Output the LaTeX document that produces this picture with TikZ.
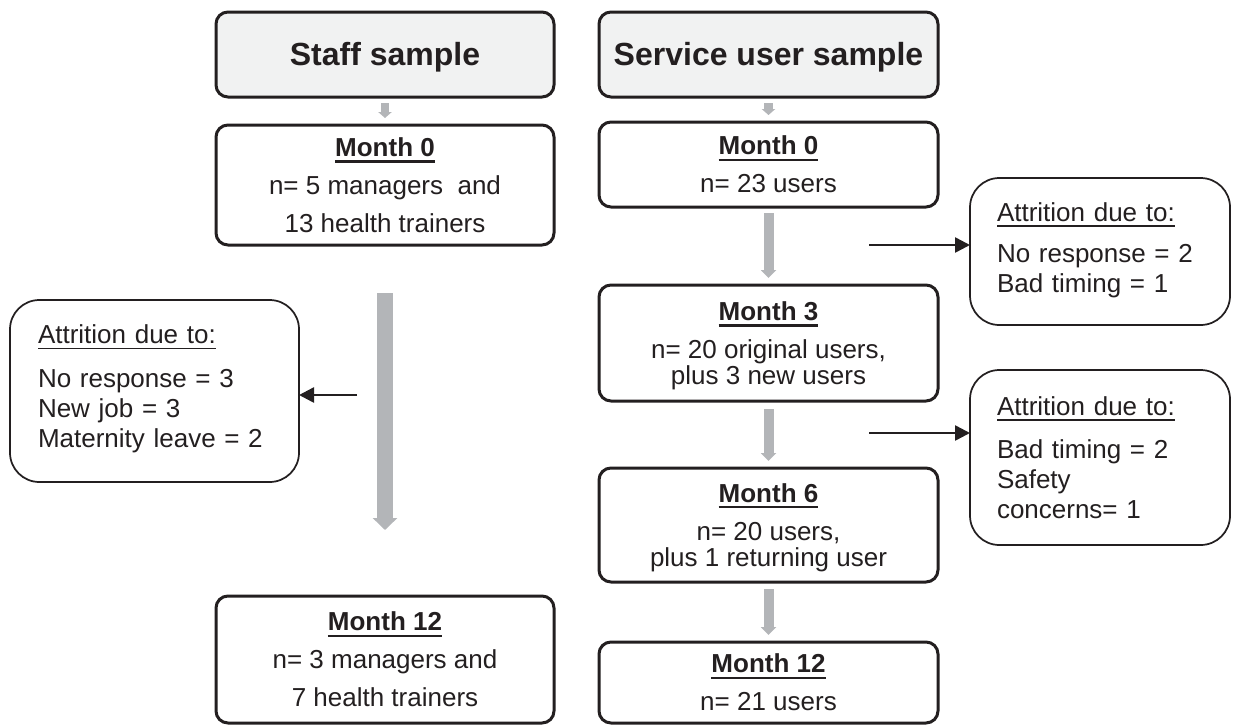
\documentclass[tikz,border=0pt]{standalone}
\usepackage{fontspec}
\setmainfont{Liberation Sans}
\usetikzlibrary{arrows.meta}

\definecolor{ink}{HTML}{231F20}
\definecolor{headfill}{HTML}{F1F2F2}
\definecolor{flowgrey}{HTML}{B3B5B8}

% underlined headings: bold one for the month boxes, thin one for the attrition boxes
\newsavebox\ulbox
\newcommand\monthhead[1]{\sbox\ulbox{\bfseries #1}\leavevmode\rlap{\rule[-4.8pt]{\wd\ulbox}{2pt}}\usebox\ulbox}
\newcommand\attrhead[1]{\sbox\ulbox{#1}\leavevmode\rlap{\rule[-3.9pt]{\wd\ulbox}{1.1pt}}\usebox\ulbox}
\newcommand\nodepth[1]{\raisebox{0pt}[\height][0pt]{#1}}
\newcommand\depthstrut[1]{\rule[-#1]{0pt}{#1}}

\begin{document}
\begin{tikzpicture}[x=0.75pt,y=-0.75pt,
  every node/.style={text=ink, outer sep=0pt},
  header/.style={draw=ink, line width=2.25pt, fill=headfill, rounded corners=9pt,
    minimum height=63.75pt, inner sep=0pt,
    font=\bfseries\fontsize{24}{28}\selectfont, text height=17.2pt, text depth=0.8pt},
  monthbox/.style={draw=ink, line width=2.25pt, fill=white, rounded corners=9pt,
    inner sep=0pt, align=center, font=\fontsize{19.5}{28.5}\selectfont},
  attrbox/.style={draw=ink, line width=1.3pt, fill=white, rounded corners=22pt,
    inner ysep=0pt, align=left, font=\fontsize{19.5}{22.5}\selectfont},
  flowA/.style={draw=flowgrey, line width=6.5pt, -{Triangle[width=10pt,length=4.5pt]}},
  flowB/.style={draw=flowgrey, line width=7.5pt, -{Triangle[width=11.25pt,length=6pt]}},
  flowC/.style={draw=flowgrey, line width=12pt, -{Triangle[width=18pt,length=9pt]}},
  blk/.style={draw=ink, line width=1.9pt, -{Triangle[length=11.25pt,width=11.25pt]}}
]
\useasboundingbox (0,0) rectangle (1237,725);

% column headers
\node[header, minimum width=253.5pt] (hs) at (385,54.5) {Staff sample};
\node[header, minimum width=254.25pt] (hu) at (768.5,54.5) {Service user sample};

% staff column
\node[monthbox, minimum width=253.5pt, minimum height=90pt] (s0) at (385,185)
  {\monthhead{Month 0}\\ n= 5 managers\ \ and\\ 13 health trainers};
\node[monthbox, minimum width=253.5pt, minimum height=95.25pt] (s12) at (385,659.5)
  {\monthhead{Month 12}\\ n= 3 managers and\\ 7 health trainers};

% service user column
\node[monthbox, minimum width=254.25pt, minimum height=63.75pt] (u0) at (768.5,164.5)
  {\monthhead{Month 0}\\ n= 23 users};
\node[monthbox, minimum width=254.25pt, minimum height=87pt] (u3) at (768.5,343)
  {\monthhead{Month 3}\\ n= 20 original users,\\[-9pt] \nodepth{plus 3 new users}};
\node[monthbox, minimum width=254.25pt, minimum height=85.5pt] (u6) at (768.5,525)
  {\monthhead{Month 6}\\ n= 20 users,\\[-8.5pt] \nodepth{plus 1 returning user}};
\node[monthbox, minimum width=254.25pt, minimum height=60.75pt] (u12) at (768.5,682.5)
  {\monthhead{Month 12}\\ n= 21 users};

% attrition notes
\node[attrbox, minimum width=216.75pt, minimum height=136.5pt, text width=174.75pt, inner xsep=21pt]
  (la) at (154.5,391)
  {\attrhead{Attrition due to:}\\[10.5pt] No response = 3\\ New job = 3\\ Maternity leave = 2\depthstrut{6.75pt}};
\node[attrbox, minimum width=195pt, minimum height=110.25pt, text width=154.5pt, inner xsep=20.25pt]
  (ra1) at (1100,251.5)
  {\attrhead{Attrition due to:}\\[8.25pt] No response = 2\\ Bad timing = 1\depthstrut{6pt}};
\node[attrbox, minimum width=195pt, minimum height=131.25pt, text width=154.5pt, inner xsep=20.25pt]
  (ra2) at (1100,457.5)
  {\attrhead{Attrition due to:}\\[9.75pt] Bad timing = 2\\ Safety\\ concerns= 1};

% grey flow arrows
\draw[flowA, shorten <=4.5pt, shorten >=5.25pt] (hs.south) -- (s0.north);
\draw[flowA, shorten <=4.5pt, shorten >=5.25pt] (hu.south) -- (u0.north);
\draw[flowB, shorten <=4.5pt, shorten >=5.25pt] (u0.south) -- (u3.north);
\draw[flowB, shorten <=6pt, shorten >=5.25pt] (u3.south) -- (u6.north);
\draw[flowB, shorten <=5.25pt, shorten >=5.25pt] (u6.south) -- (u12.north);
\draw[flowC, shorten <=36pt, shorten >=49.5pt] (s0.south) -- (s12.north);

% attrition pointers
\coordinate (lfrom) at (357,395);
\coordinate (r1from) at (869,245);
\coordinate (r2from) at (869,433);
\draw[blk] (lfrom) -- (lfrom -| la.east);
\draw[blk] (r1from) -- (r1from -| ra1.west);
\draw[blk] (r2from) -- (r2from -| ra2.west);
\end{tikzpicture}
\end{document}
